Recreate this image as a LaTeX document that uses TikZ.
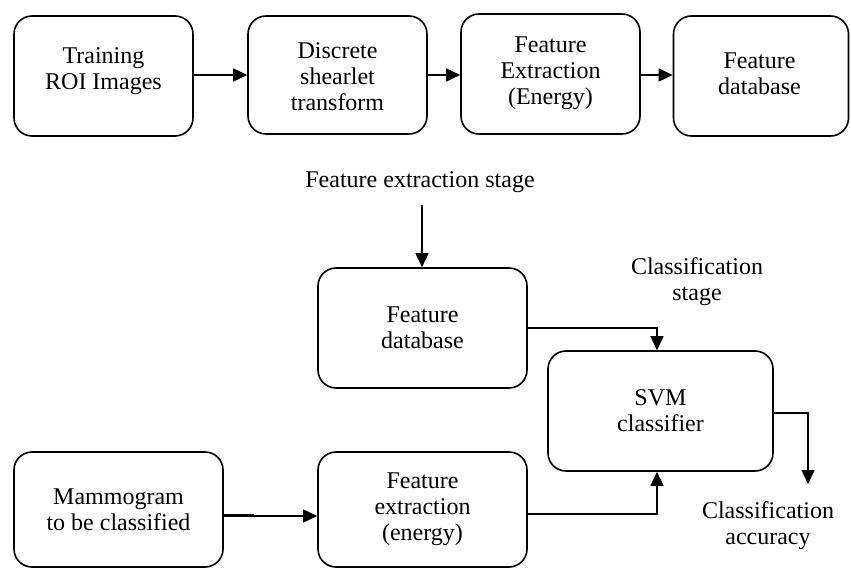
\documentclass[tikz,border=0pt]{standalone}
\usepackage{fontspec}
\setmainfont{Liberation Serif}
\usetikzlibrary{arrows.meta}
\begin{document}
\begin{tikzpicture}[x=1pt,y=-1pt,
  box/.style={draw,line width=1.6pt,rounded corners=18pt,align=center,
    inner sep=0pt,font=\fontsize{24}{26}\selectfont},
  lbl/.style={align=center,inner sep=0pt,font=\fontsize{24}{26}\selectfont},
  link/.style={line width=1.6pt,-{Triangle[length=14pt,width=13pt]}}]
\useasboundingbox (0,0) rectangle (851,569);
% top row: training pipeline (frames, then their captions)
\node[box,minimum width=179pt,minimum height=120pt] (train) at (103.5,76) {};
\node[box,minimum width=179pt,minimum height=118pt] (dst) at (337.5,75) {};
\node[box,minimum width=179pt,minimum height=120pt] (fext) at (550.5,74) {};
\node[box,minimum width=175pt,minimum height=120pt] (fdb) at (761,76) {};
\node[lbl] (train-t) at (103.5,71) {Training\\ROI Images};
\node[lbl] (dst-t) at (337.5,77) {Discrete\\shearlet\\transform};
\node[lbl] (fext-t) at (550.5,73.5) {Feature\\Extraction\\(Energy)};
\node[lbl] (fdb-t) at (759.5,73.5) {Feature\\database};
\draw[link] (train.east |- 0,75) -- (dst.west |- 0,75);
\draw[link] (dst.east |- 0,75) -- (fext.west |- 0,75);
\draw[link] (fext.east |- 0,75) -- (fdb.west |- 0,75);
% stage labels
\node[lbl] (stage1) at (420,182) {Feature extraction stage};
\node[lbl] (stage2) at (697,282) {Classification\\stage};
% classification stage
\node[box,minimum width=209pt,minimum height=120pt] (db) at (422.5,328) {Feature\\database};
\node[box,minimum width=225pt,minimum height=120pt] (svm) at (660.5,411) {SVM\\classifier};
\node[box,minimum width=209pt,minimum height=115pt] (mammo) at (118.5,509.5) {Mammogram\\to be classified};
\node[box,minimum width=209pt,minimum height=115pt] (fe) at (422.5,509.5) {Feature\\extraction\\(energy)};
\node[lbl] (acc) at (768,526) {Classification\\accuracy};
\coordinate (accin) at (808,484);
\draw[link] (422,205) -- (db.north -| 422,0);
\draw[link] (db.east |- 0,328) -| (svm.north -| 657,0);
\draw[link] (fe.east |- 0,514) -| (svm.south -| 657,0);
\draw[link] (mammo.east |- 0,516) -- (fe.west |- 0,516);
\draw[line width=1.6pt] (mammo.east |- 0,514.5) -- ++(30,0);
\draw[link] (svm.east |- 0,413) -| (accin);
\end{tikzpicture}
\end{document}
